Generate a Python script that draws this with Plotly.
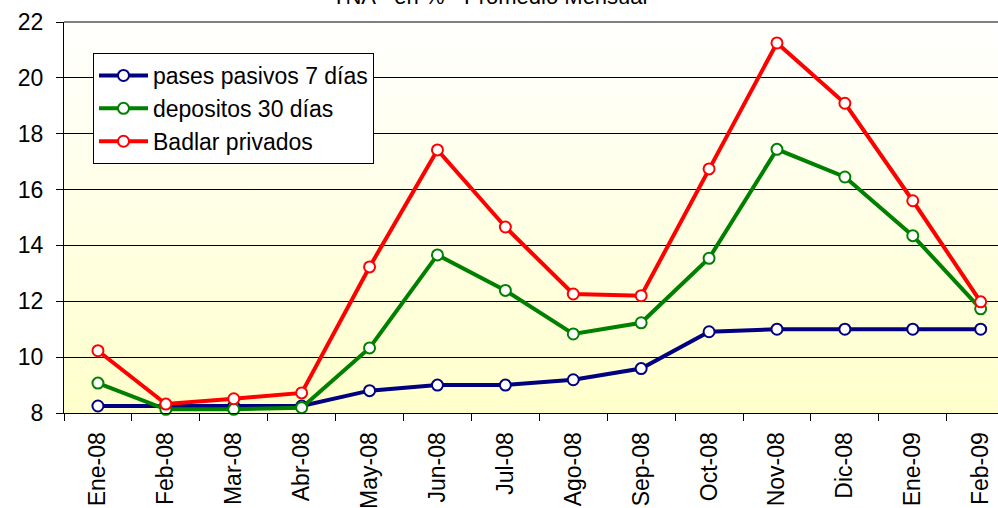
import base64
import plotly.graph_objects as go

months = ["Ene-08", "Feb-08", "Mar-08", "Abr-08", "May-08", "Jun-08", "Jul-08",
          "Ago-08", "Sep-08", "Oct-08", "Nov-08", "Dic-08", "Ene-09", "Feb-09"]
pases = [8.25, 8.25, 8.25, 8.25, 8.8, 9.0, 9.0, 9.19, 9.59, 10.91, 11.0, 11.0, 11.0, 11.0]
depositos = [9.07, 8.13, 8.13, 8.19, 10.33, 13.66, 12.39, 10.83, 11.23, 13.54, 17.44, 16.45, 14.35, 11.73]
badlar = [10.23, 8.32, 8.51, 8.72, 13.23, 17.42, 14.66, 12.26, 12.2, 16.74, 21.25, 19.09, 15.6, 11.98]
y_ticks = [8, 10, 12, 14, 16, 18, 20, 22]
title = "TNA - en % - Promedio Mensual"

FONT = "Liberation Sans, Arial, sans-serif"

series = [
    ("pases pasivos 7 días", pases, "#000080"),
    ("depositos 30 días", depositos, "#008000"),
    ("Badlar privados", badlar, "#FF0000"),
]

fig = go.Figure()
for i, (name, vals, col) in enumerate(series):
    fig.add_trace(go.Scatter(
        x=months, y=vals, name=name, mode="lines+markers",
        line=dict(color=col, width=4),
        marker=dict(size=11, color="white", line=dict(color=col, width=2)),
        cliponaxis=False,
    ))

svg = ('<svg xmlns="http://www.w3.org/2000/svg" width="10" height="100" preserveAspectRatio="none">'
       '<defs><linearGradient id="g" x1="0" y1="0" x2="0" y2="1">'
       '<stop offset="0" stop-color="#FFFFFF"/><stop offset="1" stop-color="#FFFFCC"/>'
       '</linearGradient></defs><rect width="10" height="100" fill="url(#g)"/></svg>')
src = "data:image/svg+xml;base64," + base64.b64encode(svg.encode()).decode()

fig.update_layout(
    width=998, height=508,
    margin=dict(l=64, r=0, t=22, b=95, autoexpand=False),
    paper_bgcolor="white", plot_bgcolor="white",
    font=dict(family=FONT, size=23, color="black"),
    showlegend=True,
    legend=dict(
        x=(93 - 64) / 934, y=(413 - 53) / 391, xanchor="left", yanchor="top",
        bgcolor="white", bordercolor="black", borderwidth=1,
        font=dict(family=FONT, size=23, color="black"),
        itemwidth=49,
    ),
    images=[dict(source=src, xref="paper", yref="paper", x=0, y=1, sizex=1, sizey=1,
                 xanchor="left", yanchor="top", sizing="stretch", layer="below")],
    xaxis=dict(
        type="category", categoryorder="array", categoryarray=months,
        range=[-0.5, 13.255], tickson="boundaries", ticks="outside", ticklen=7,
        tickcolor="black", tickwidth=1, tickangle=-90, showgrid=False,
        showline=True, linecolor="black", linewidth=1, ticklabelstandoff=9,
        tickfont=dict(family=FONT, size=23), fixedrange=True,
    ),
    yaxis=dict(
        range=[8, 22], tickvals=y_ticks, ticks="outside", ticklen=7,
        tickcolor="black", tickwidth=1, showgrid=True, gridcolor="black", gridwidth=1,
        showline=True, linecolor="black", linewidth=1, zeroline=False,
        ticklabelstandoff=8, tickfont=dict(family=FONT, size=23), fixedrange=True,
    ),
    shapes=[dict(type="line", xref="paper", yref="paper", x0=0, x1=1, y0=1, y1=1,
                 line=dict(color="#808080", width=2), layer="above")],
    annotations=[dict(text=title, xref="paper", yref="paper", x=(489 - 64) / 934,
                      y=1 + (22 - 11) / 391, xanchor="center", yanchor="bottom",
                      showarrow=False, font=dict(family=FONT, size=22, color="black"))],
)

fig.write_html("out.html", config={"displayModeBar": False},
               post_script="document.body.style.margin='0';document.body.style.overflow='hidden';")
